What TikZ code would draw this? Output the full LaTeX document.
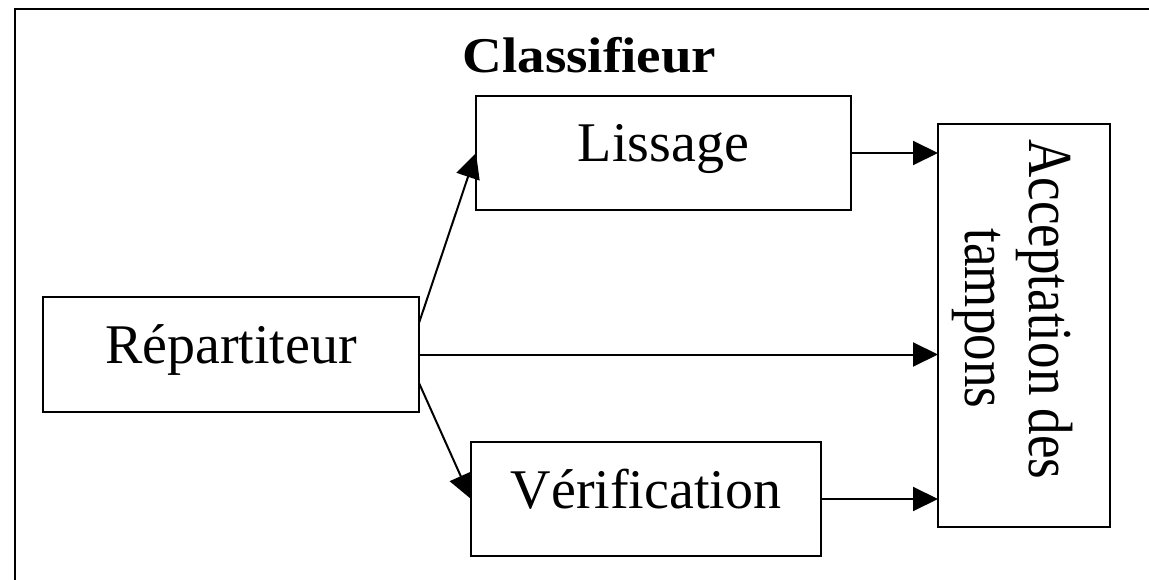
\documentclass[tikz,border=0pt]{standalone}
\usepackage{fontspec}
\setmainfont{Liberation Serif}
\usetikzlibrary{arrows.meta,calc}

\begin{document}
\begin{tikzpicture}[x=1pt,y=-1pt,
  box/.style={draw, line width=2pt, fill=white, inner sep=0pt, outer sep=0pt,
    font=\fontsize{56}{60}\selectfont, text height=31pt, text depth=13pt},
  label/.style={inner sep=0pt, outer sep=0pt, anchor=base},
  flow/.style={line width=2pt, -{Triangle[length=25pt,width=24pt]}},
]
\useasboundingbox (0,0) rectangle (1149,580);

% open frame: top and left edges only
\draw[line width=2.5pt] (1149,9) -- (15,9) -- (15,580);

% blocks
\node[box, minimum width=376pt, minimum height=115pt] (rep) at (231,354.5) {Répartiteur};
\node[box, minimum width=375pt, minimum height=114pt] (lis) at (663.5,153) {Lissage};
\node[box, minimum width=350pt, minimum height=114pt] (ver) at (646,499) {Vérification};
\node[box, minimum width=172pt, minimum height=403pt] (acc) at (1024,325.5) {};

% title
\node[label, font=\bfseries\fontsize{50}{55}\selectfont] (title) at (589.5,73)
  {\scalebox{1.1}[1]{Classifieur}};

% vertical text of the last block
\node[label, rotate=-90, font=\fontsize{53}{60}\selectfont] (acctop) at (1029,309.5)
  {\scalebox{1}[1.18]{Acceptation des}};
\node[label, rotate=-90, font=\fontsize{53}{60}\selectfont] (accbot) at (965,318.5)
  {\scalebox{1}[1.18]{tampons}};

% connections
\draw[flow] ([yshift=31.5pt]rep.east) -- (lis.west);
\draw[flow] (rep.east) -- (rep.east -| acc.west);
\draw[flow] ([yshift=-28.5pt]rep.east) -- (ver.west);
\draw[flow] (lis.east) -- (lis.east -| acc.west);
\draw[flow] (ver.east) -- (ver.east -| acc.west);
\end{tikzpicture}
\end{document}
